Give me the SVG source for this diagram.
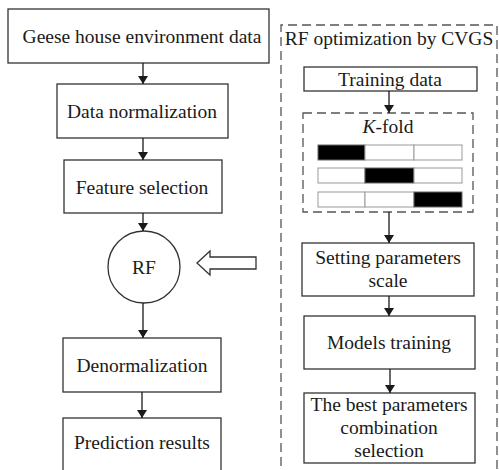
<svg xmlns="http://www.w3.org/2000/svg" width="499" height="470" viewBox="0 0 499 470" font-family="'Liberation Serif', 'Times New Roman', serif">
<defs>
<marker id="ah" viewBox="0 0 8 10" refX="8" refY="5" markerWidth="8" markerHeight="10" markerUnits="userSpaceOnUse" orient="auto">
<path d="M0,0 L8,5 L0,10 Z" fill="#1a1a1a"/>
</marker>
</defs>
<style>
.box{fill:#fff;stroke:#333;stroke-width:1.3}
.dash{fill:none;stroke:#555;stroke-width:1.3;stroke-dasharray:9 5}
.cell{fill:#fff;stroke:#999;stroke-width:1}
.blk{fill:#000;stroke:#666;stroke-width:1}
text{font-family:"Liberation Serif","Times New Roman",serif;font-size:19.5px;fill:#1a1a1a;text-anchor:middle;font-weight:normal}
.conn{stroke:#1a1a1a;stroke-width:1.3;fill:none;marker-end:url(#ah)}
</style>
<rect width="499" height="470" fill="#fff"/>
<g id="cvgs-group">
<path class="dash" d="M281,480 L281,25 L497,25 L497,480"/>
<text x="389" y="45">RF optimization by CVGS</text>
</g>
<g id="n1"><rect class="box" x="8" y="9" width="261" height="54"/><text x="142" y="43">Geese house environment data</text></g>
<g id="n2"><rect class="box" x="57" y="84" width="171" height="54"/><text x="142" y="118">Data normalization</text></g>
<g id="n3"><rect class="box" x="64" y="160" width="158" height="53"/><text x="142" y="194">Feature selection</text></g>
<g id="rf"><circle class="box" cx="144" cy="267" r="36"/><text x="144" y="274">RF</text></g>
<g id="n4"><rect class="box" x="63" y="338" width="158" height="54"/><text x="142" y="372">Denormalization</text></g>
<g id="n5"><rect class="box" x="63" y="418" width="158" height="62"/><text x="142" y="449">Prediction results</text></g>
<g id="hollow-arrow"><path class="box" d="M197,263 L210,251 L210,257 L256,257 L256,269 L210,269 L210,275 Z"/></g>
<g id="r1"><rect class="box" x="304" y="67" width="173" height="24"/><text x="390" y="86">Training data</text></g>
<g id="kfold">
<rect class="dash" x="303" y="113" width="170" height="99"/>
<text x="388" y="133"><tspan font-style="italic">K</tspan>-fold</text>
<rect class="blk" x="318" y="145" width="47" height="15"/><rect class="cell" x="365" y="145" width="49" height="15"/><rect class="cell" x="414" y="145" width="48" height="15"/>
<rect class="cell" x="318" y="168" width="47" height="15"/><rect class="blk" x="365" y="168" width="49" height="15"/><rect class="cell" x="414" y="168" width="48" height="15"/>
<rect class="cell" x="318" y="192" width="47" height="15"/><rect class="cell" x="365" y="192" width="49" height="15"/><rect class="blk" x="414" y="192" width="48" height="15"/>
</g>
<g id="r2"><rect class="box" x="302" y="243" width="172" height="53"/><text x="388" y="264">Setting parameters</text><text x="388" y="287">scale</text></g>
<g id="r3"><rect class="box" x="304" y="316" width="171" height="53"/><text x="389" y="349">Models training</text></g>
<g id="r4"><rect class="box" x="304" y="393" width="171" height="70"/><text x="389" y="411">The best parameters</text><text x="389" y="434">combination</text><text x="389" y="457">selection</text></g>
<g id="connectors">
<line class="conn" x1="143" y1="63" x2="143" y2="84"/>
<line class="conn" x1="143" y1="138" x2="143" y2="160"/>
<line class="conn" x1="143" y1="213" x2="143" y2="231"/>
<line class="conn" x1="143" y1="303" x2="143" y2="338"/>
<line class="conn" x1="142" y1="392" x2="142" y2="418"/>
<line class="conn" x1="389" y1="91" x2="389" y2="113"/>
<line class="conn" x1="389" y1="212" x2="389" y2="243"/>
<line class="conn" x1="389" y1="296" x2="389" y2="316"/>
<line class="conn" x1="390" y1="369" x2="390" y2="393"/>
</g>
</svg>
